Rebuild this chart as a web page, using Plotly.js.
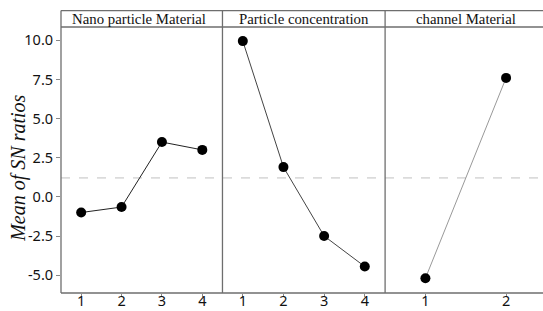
<!DOCTYPE html>
<html><head><meta charset="utf-8">
<script src="https://cdn.plot.ly/plotly-3.0.1.min.js"></script>
<style>html,body{margin:0;padding:0;background:#fff}</style>
</head><body><div id="chart" style="width:543px;height:311px"></div>
<script>
// Data
const panelTitles = ["Nano particle Material", "Particle concentration", "channel Material"];
const nanoLevels = [1, 2, 3, 4];
const nanoMeans = [-1.0, -0.65, 3.5, 3.0];
const concLevels = [1, 2, 3, 4];
const concMeans = [9.95, 1.9, -2.5, -4.45];
const channelLevels = [1, 2];
const channelMeans = [-5.2, 7.6];
const grandMean = 1.21;
const yTicks = [-5, -2.5, 0, 2.5, 5, 7.5, 10];
const yTickText = ["-5.0", "-2.5", "0.0", "2.5", "5.0", "7.5", "10.0"];
const yTitle = "Mean of SN ratios";

const marker = {size: 10, color: "#000"};
const traces = [
  {x: nanoLevels, y: nanoMeans, xaxis: "x", yaxis: "y", mode: "lines+markers",
   line: {color: "#222", width: 1}, marker: marker},
  {x: concLevels, y: concMeans, xaxis: "x2", yaxis: "y", mode: "lines+markers",
   line: {color: "#444", width: 1}, marker: marker},
  {x: channelLevels, y: channelMeans, xaxis: "x3", yaxis: "y", mode: "lines+markers",
   line: {color: "#999", width: 1}, marker: marker}
];

const d1 = 0.335, d2 = 0.6724;
const yTickFont = {family: "Noto Sans, Open Sans, sans-serif", size: 14.5, color: "#111"};
const xTickFont = {family: "Noto Sans, Open Sans, sans-serif", size: 14.5, color: "#111"};
function xa(domain, vals, range) {
  return {domain: domain, range: range, tickvals: vals, ticktext: vals.map(String),
    showgrid: false, zeroline: false, showline: false, ticks: "outside", ticklen: 3,
    tickcolor: "#888", tickwidth: 1, tickfont: xTickFont, ticklabelstandoff: -8,
    anchor: "y", fixedrange: true};
}
const strokeColor = "#6e6e6e";
const stripTop = 1.0618;
const shapes = [
  {type: "line", xref: "paper", yref: "y", x0: 0, x1: 1, y0: grandMean, y1: grandMean,
   line: {color: "#c0c0c0", width: 1, dash: "dash"}, layer: "below"},
  {type: "line", xref: "paper", yref: "paper", x0: 0, x1: 1, y0: 0, y1: 0, line: {color: strokeColor, width: 1.3}},
  {type: "line", xref: "paper", yref: "paper", x0: 0, x1: 0, y0: 0, y1: stripTop, line: {color: strokeColor, width: 1.3}},
  {type: "line", xref: "paper", yref: "paper", x0: d1, x1: d1, y0: 0, y1: stripTop, line: {color: strokeColor, width: 1.3}},
  {type: "line", xref: "paper", yref: "paper", x0: d2, x1: d2, y0: 0, y1: stripTop, line: {color: strokeColor, width: 1.3}},
  {type: "line", xref: "paper", yref: "paper", x0: 0, x1: 1, y0: stripTop, y1: stripTop, line: {color: strokeColor, width: 1.3}},
  {type: "line", xref: "paper", yref: "paper", x0: 0, x1: 1, y0: 1, y1: 1, line: {color: strokeColor, width: 1.3}}
];
const centers = [d1 / 2 - 0.005, (d1 + d2) / 2, (d2 + 1.0064) / 2];
const annotations = panelTitles.map((t, i) => ({
  text: t, xref: "paper", yref: "paper", x: centers[i], y: 1.031, xanchor: "center", yanchor: "middle",
  showarrow: false, font: {family: "Liberation Serif, Times New Roman, serif", size: 14.8, color: "#111"}
}));
annotations.push({
  text: yTitle, xref: "paper", yref: "paper", x: -0.0875, y: 0.47, xanchor: "center", yanchor: "middle",
  textangle: -90, showarrow: false,
  font: {family: "Liberation Serif, Times New Roman, serif", size: 20, color: "#111", style: "italic"}
});

const layout = {
  width: 543, height: 311,
  margin: {l: 60.7, r: 0, t: 26.5, b: 17.7, pad: 0},
  paper_bgcolor: "#fff", plot_bgcolor: "#fff",
  showlegend: false,
  xaxis: xa([0, d1], nanoLevels, [0.5, 4.5]),
  xaxis2: xa([d1, d2], concLevels, [0.5, 4.5]),
  xaxis3: xa([d2, 1], channelLevels, [0.5, 2.458]),
  yaxis: {range: [-6.14, 10.85], tickvals: yTicks, ticktext: yTickText, showgrid: false,
    zeroline: false, showline: false, ticks: "outside", ticklen: 4, tickcolor: "#888",
    tickfont: yTickFont, fixedrange: true},
  shapes: shapes,
  annotations: annotations
};
Plotly.newPlot("chart", traces, layout, {displayModeBar: false, staticPlot: true});
</script></body></html>
